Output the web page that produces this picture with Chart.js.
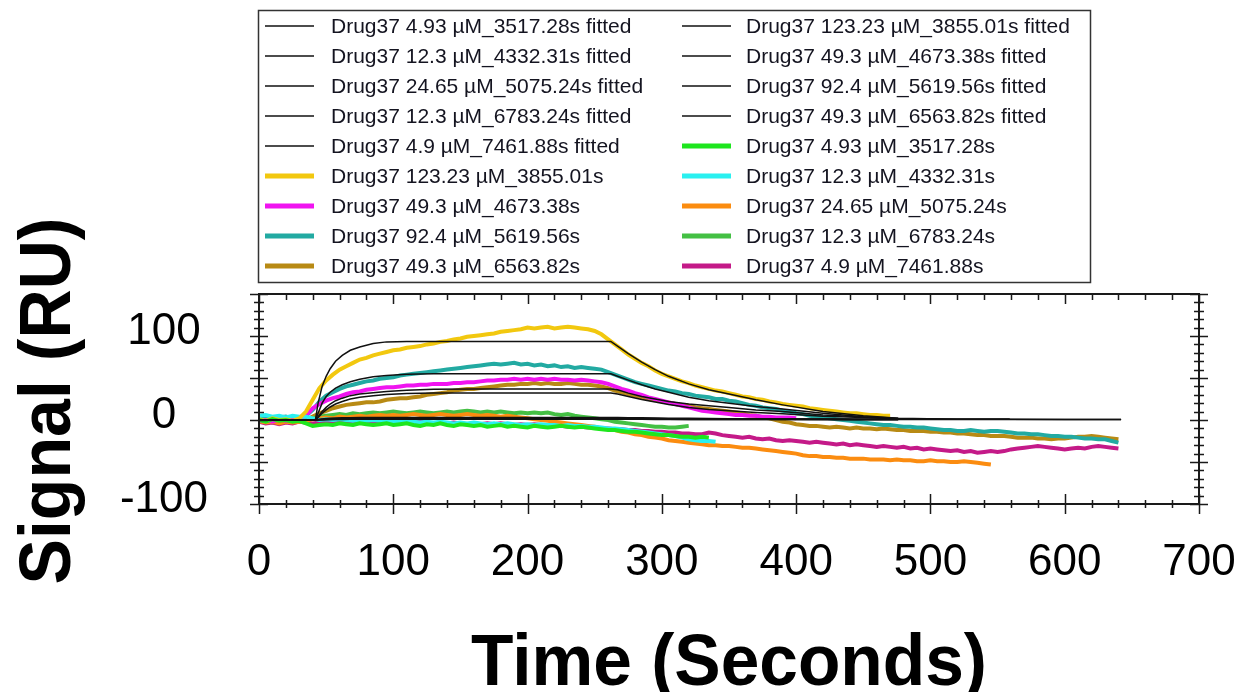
<!DOCTYPE html>
<html>
<head>
<meta charset="utf-8">
<script src="https://cdn.jsdelivr.net/npm/chart.js@4.4.0/dist/chart.umd.min.js"></script>
<style>
  html, body { margin: 0; padding: 0; background: #fff; }
  #sensorgram { display: block; }
</style>
</head>
<body>
<canvas id="sensorgram" width="1242" height="692"></canvas>
<script>
const FONT = '"Liberation Sans", Arial, sans-serif';

// sample step of the measured traces (seconds)
const STEP = 5;

// fitted curves share this time grid
const fitTimes = [0, 42, 44, 47, 50, 53, 57, 62, 68, 75, 85, 95, 110, 130, 160, 200, 262, 267, 275, 285, 295, 305, 320, 335, 350, 370, 390, 420, 450, 476, 520, 559, 600, 642];

const fit3517 = [0, 0, 0.2, 0.4, 0.6, 0.7, 0.8, 0.9, 1, 1, 1, 1, 1, 1, 1, 1, 1, 1, 0.9, 0.9, 0.8, 0.8, 0.7, 0.7, 0.6, 0.6, 0.5, 0.5, 0.4, 0.4, null, null, null, null];
const fit3855 = [0, 0, 20, 40, 52, 61, 70, 77, 83, 87, 91, 93, 93.5, 93.5, 93.5, 93.5, 93.5, 88, 79, 69, 60, 52, 43, 36, 31, 24, 18, 10, 5, 2, null, null, null, null];
const fit4332 = [0, 0, 0.4, 0.8, 1.1, 1.4, 1.6, 1.8, 1.9, 2, 2, 2, 2, 2, 2, 2, 2, 2, 1.9, 1.8, 1.7, 1.6, 1.5, 1.4, 1.3, 1.2, 1.1, 1, 0.9, 0.8, null, null, null, null];
const fit4673 = [0, 0, 4, 10, 15, 19, 23, 26, 29, 31, 32.5, 34, 35.5, 36.5, 37, 37, 37, 36, 32, 28, 25, 22, 19, 17, 15, 12, 10, 6, 3.5, 1.5, null, null, null, null];
const fit5075 = [0, 0, 0.6, 1.2, 1.7, 2.1, 2.4, 2.6, 2.8, 2.9, 3, 3, 3, 3, 3, 3, 3, 2.9, 2.8, 2.6, 2.4, 2.2, 2, 1.8, 1.6, 1.4, 1.3, 1.1, 1, 0.9, 0.8, 0.8, null, null];
const fit5619 = [0, 0, 8, 20, 28, 33, 38, 42, 45.5, 48.5, 51.5, 53, 54.5, 55, 55, 55, 55, 52, 47.5, 42, 37, 33, 27, 23, 20, 16, 13, 8, 4, 2, 1, 0.8, null, null];
const fit6783 = [0, 0, 0.3, 0.6, 0.9, 1.1, 1.3, 1.4, 1.5, 1.5, 1.5, 1.5, 1.5, 1.5, 1.5, 1.5, 1.5, 1.5, 1.4, 1.3, 1.3, 1.2, 1.1, 1, 0.9, 0.9, 0.8, 0.7, 0.7, 0.6, null, null, null, null];
const fit6563 = [0, 0, 3, 8, 12, 15.5, 19, 22, 25, 27, 29, 30.5, 31.5, 32, 32, 32, 32, 31, 28, 24.5, 21.5, 18.5, 15, 12.5, 11, 9, 7.5, 4.5, 3, 1.5, 1, 0.8, 0.6, 0.5];
const fit7461 = [0, 0, 0.2, 0.3, 0.4, 0.5, 0.6, 0.7, 0.8, 0.8, 0.8, 0.8, 0.8, 0.8, 0.8, 0.8, 0.8, 0.8, 0.8, 0.8, 0.7, 0.7, 0.7, 0.7, 0.6, 0.6, 0.6, 0.6, 0.6, 0.5, 0.5, 0.5, 0.5, 0.5];

// measured traces, one value every STEP seconds from t = 0
const raw3517 = [0, -2, 1, -1, 0, -2, -1, -4, -7, -6, -5, -6, -4, -5, -6, -4, -5, -6, -5, -4, -6, -5, -4, -6, -7, -5, -6, -4, -6, -7, -5, -6, -7, -6, -8, -7, -6, -8, -7, -8, -9, -7, -8, -9, -8, -7, -8, -9, -8, -9, -10, -11, -12, -12, -13, -14, -14, -15, -16, -17, -18, -18, -19, -20, -20, -21, -20, -21];
const raw3855 = [1, -1, 2, 0, 1, -1, 2, 10, 24, 38, 47, 54, 60, 64, 68, 72, 74, 77, 79, 81, 83, 84, 86, 87, 88, 90, 91, 93, 94, 96, 97, 99, 100, 101, 102, 103, 105, 106, 107, 108, 110, 109, 110, 111, 109, 110, 111, 110, 109, 108, 106, 102, 96, 90, 84, 78, 73, 68, 64, 59, 55, 52, 49, 46, 44, 41, 39, 37, 35, 34, 32, 30, 28, 27, 25, 24, 22, 21, 19, 18, 17, 16, 14, 13, 12, 11, 10, 9, 8, 8, 7, 6, 6, 5, 5];
const raw4332 = [5, 6, 4, 5, 3, 5, 4, 4, 2, 0, 1, 0, 1, 0, -1, 0, -1, 0, -1, -2, -1, -2, -1, -2, -3, -2, -3, -2, -3, -4, -3, -4, -3, -4, -5, -4, -5, -4, -5, -6, -5, -6, -5, -6, -6, -7, -6, -7, -7, -8, -8, -9, -10, -10, -11, -12, -13, -14, -15, -16, -17, -18, -19, -21, -23, -24, -25, -25, -26];
const raw4673 = [-1, 0, -2, 1, -1, 0, -1, 5, 14, 19, 23, 26, 28, 31, 33, 34, 36, 37, 38, 39, 39, 40, 41, 41, 42, 42, 43, 43, 43, 44, 44, 45, 45, 46, 47, 47, 48, 48, 49, 48, 49, 48, 49, 48, 49, 48, 48, 47, 48, 47, 46, 45, 43, 40, 37, 35, 32, 30, 27, 25, 23, 21, 19, 17, 15, 13, 11, 10, 9, 8, 7, 6, 6, 5, 5, 4, 4, 3, 3, 3, 2];
const raw5075 = [-1, -3, -2, -4, -2, -3, -2, -1, 1, 2, 3, 2, 4, 3, 4, 5, 4, 5, 6, 5, 6, 5, 6, 7, 6, 5, 6, 7, 6, 5, 6, 7, 6, 5, 6, 5, 4, 5, 4, 3, 2, 1, 0, -1, -2, -3, -4, -5, -6, -7, -8, -10, -11, -12, -14, -15, -17, -18, -20, -21, -22, -24, -25, -26, -27, -28, -29, -30, -30, -31, -31, -32, -33, -33, -34, -35, -36, -37, -38, -39, -40, -42, -43, -43, -44, -44, -45, -45, -46, -46, -46, -47, -47, -47, -48, -47, -48, -48, -49, -49, -48, -49, -49, -50, -50, -49, -50, -51, -52, -53];
const raw5619 = [3, 4, 2, 3, 4, 2, 3, 5, 12, 22, 29, 33, 37, 40, 42, 44, 46, 47, 49, 50, 51, 53, 54, 55, 56, 57, 58, 59, 60, 61, 62, 63, 64, 65, 66, 67, 66, 67, 68, 66, 67, 65, 66, 64, 65, 63, 64, 62, 63, 62, 61, 60, 57, 54, 51, 48, 45, 43, 41, 39, 37, 35, 34, 32, 31, 29, 28, 27, 25, 25, 23, 22, 20, 18, 17, 15, 14, 13, 11, 10, 8, 7, 5, 4, 3, 2, 1, 0, -1, -2, -3, -4, -5, -6, -6, -7, -8, -8, -9, -9, -10, -11, -12, -12, -13, -13, -12, -13, -14, -13, -13, -14, -15, -16, -16, -17, -17, -18, -19, -19, -20, -20, -21, -22, -22, -23, -23, -25, -27];
const raw6783 = [0, 1, -1, 0, 1, -1, 0, 1, 2, 4, 5, 6, 7, 6, 8, 7, 8, 9, 8, 9, 10, 9, 8, 9, 10, 9, 8, 9, 10, 9, 10, 11, 10, 9, 10, 9, 10, 9, 8, 9, 8, 9, 8, 9, 7, 6, 7, 5, 4, 3, 2, 1, 0, -2, -3, -4, -5, -6, -7, -8, -8, -9, -9, -8, -7];
const raw6563 = [-2, -1, -3, -1, -2, -1, -2, 0, 4, 8, 11, 14, 16, 18, 19, 20, 21, 21, 22, 24, 25, 26, 26, 27, 28, 30, 31, 32, 33, 35, 36, 37, 37, 38, 39, 40, 41, 42, 42, 43, 43, 44, 43, 44, 43, 43, 44, 43, 42, 42, 41, 40, 38, 35, 33, 31, 29, 27, 25, 24, 22, 21, 19, 18, 17, 15, 14, 13, 12, 11, 10, 9, 8, 6, 5, 3, 2, 0, -2, -3, -5, -6, -7, -7, -8, -9, -8, -9, -10, -9, -10, -10, -11, -10, -11, -12, -12, -13, -13, -13, -14, -14, -15, -15, -16, -16, -17, -18, -18, -19, -19, -19, -20, -21, -21, -21, -22, -22, -23, -22, -22, -21, -20, -20, -19, -20, -21, -22, -23];
const raw7461 = [-2, -4, -3, -5, -3, -4, -2, -3, -4, -3, -2, -3, -2, -3, -4, -3, -2, -3, -2, -3, -4, -3, -2, -3, -2, -3, -4, -3, -4, -3, -4, -5, -4, -5, -4, -5, -4, -5, -6, -5, -6, -5, -6, -7, -6, -7, -8, -7, -8, -9, -9, -10, -10, -11, -11, -12, -12, -13, -13, -14, -14, -15, -15, -16, -16, -17, -17, -15, -16, -18, -19, -20, -21, -20, -22, -23, -22, -24, -25, -24, -25, -26, -27, -26, -27, -28, -29, -28, -30, -29, -30, -31, -32, -31, -32, -33, -32, -34, -33, -35, -34, -35, -36, -37, -36, -38, -37, -39, -38, -37, -38, -37, -35, -34, -33, -32, -31, -32, -33, -34, -35, -34, -33, -34, -32, -31, -32, -33, -34];

const fitLabels = [
  'Drug37 4.93 µM_3517.28s fitted', 'Drug37 123.23 µM_3855.01s fitted',
  'Drug37 12.3 µM_4332.31s fitted', 'Drug37 49.3 µM_4673.38s fitted',
  'Drug37 24.65 µM_5075.24s fitted', 'Drug37 92.4 µM_5619.56s fitted',
  'Drug37 12.3 µM_6783.24s fitted', 'Drug37 49.3 µM_6563.82s fitted',
  'Drug37 4.9 µM_7461.88s fitted'
];
const rawLabels = [
  'Drug37 4.93 µM_3517.28s', 'Drug37 123.23 µM_3855.01s',
  'Drug37 12.3 µM_4332.31s', 'Drug37 49.3 µM_4673.38s',
  'Drug37 24.65 µM_5075.24s', 'Drug37 92.4 µM_5619.56s',
  'Drug37 12.3 µM_6783.24s', 'Drug37 49.3 µM_6563.82s',
  'Drug37 4.9 µM_7461.88s'
];
const rawColors = ['#1ee61e', '#f2c80f', '#2af0f0', '#f014f0', '#fb8c10', '#22aaa2', '#44c044', '#b88a14', '#c41a88'];

const fitSeries = [fit3517, fit3855, fit4332, fit4673, fit5075, fit5619, fit6783, fit6563, fit7461];
const rawSeries = [raw3517, raw3855, raw4332, raw4673, raw5075, raw5619, raw6783, raw6563, raw7461];

const datasets = [];
fitSeries.forEach((vals, i) => {
  datasets.push({
    label: fitLabels[i],
    data: vals.map((v, k) => ({ x: fitTimes[k], y: v })),
    borderColor: '#111',
    borderWidth: 1.5,
    legendWidth: 1.5,
    pointRadius: 0,
    spanGaps: false
  });
});
rawSeries.forEach((vals, i) => {
  datasets.push({
    label: rawLabels[i],
    data: vals.map((v, k) => ({ x: k * STEP, y: v })),
    borderColor: rawColors[i],
    borderWidth: 4,
    legendWidth: 5,
    pointRadius: 0
  });
});

// frame, crossing ticks, axis titles and the two-column legend box
const decorations = {
  id: 'decorations',
  afterDraw(chart) {
    const { ctx, chartArea: a, scales: { x, y } } = chart;
    ctx.save();

    ctx.strokeStyle = '#1a1a1a';
    ctx.lineWidth = 2;
    ctx.strokeRect(a.left, a.top, a.right - a.left, a.bottom - a.top);

    ctx.lineWidth = 1.5;
    ctx.beginPath();
    for (let t = 0; t <= 700; t += 20) {
      const px = Math.round(x.getPixelForValue(t)) + 0.5;
      const major = t % 100 === 0;
      ctx.moveTo(px, a.bottom - (major ? 10 : 4));
      ctx.lineTo(px, a.bottom + (major ? 10 : 4));
      ctx.moveTo(px, a.top);
      ctx.lineTo(px, a.top + (major ? 10 : 6));
    }
    for (let v = -100; v <= 150; v += 10) {
      const py = Math.round(y.getPixelForValue(v)) + 0.5;
      const len = v % 50 === 0 ? 9 : 5;
      ctx.moveTo(a.left - len, py);
      ctx.lineTo(a.left + len, py);
      ctx.moveTo(a.right - len, py);
      ctx.lineTo(a.right + len, py);
    }
    ctx.stroke();

    // axis titles
    ctx.fillStyle = '#000';
    ctx.font = 'bold 72px ' + FONT;
    ctx.textAlign = 'center';
    ctx.textBaseline = 'alphabetic';
    let w = ctx.measureText('Time (Seconds)').width;
    ctx.save();
    ctx.translate(729, 685);
    ctx.scale(516 / w, 1);
    ctx.fillText('Time (Seconds)', 0, 0);
    ctx.restore();

    w = ctx.measureText('Signal (RU)').width;
    ctx.save();
    ctx.translate(70, 401);
    ctx.rotate(-Math.PI / 2);
    ctx.scale(367 / w, 1);
    ctx.fillText('Signal (RU)', 0, 0);
    ctx.restore();

    // legend
    ctx.strokeStyle = '#333';
    ctx.lineWidth = 1.5;
    ctx.strokeRect(258.5, 10.5, 832, 272);
    const lineX = [265, 682];
    const textX = [331, 746];
    ctx.font = '21px ' + FONT;
    ctx.textAlign = 'left';
    ctx.textBaseline = 'middle';
    chart.data.datasets.forEach((ds, i) => {
      const col = i % 2;
      const rowY = 26 + Math.floor(i / 2) * 30;
      ctx.strokeStyle = ds.borderColor;
      ctx.lineWidth = ds.legendWidth;
      ctx.beginPath();
      ctx.moveTo(lineX[col], rowY);
      ctx.lineTo(lineX[col] + 49, rowY);
      ctx.stroke();
      ctx.fillStyle = '#141420';
      ctx.fillText(ds.label, textX[col], rowY + 1);
    });

    ctx.restore();
  }
};

new Chart(document.getElementById('sensorgram'), {
  type: 'line',
  data: { datasets },
  options: {
    responsive: false,
    animation: false,
    devicePixelRatio: 1,
    layout: { padding: { top: 294, right: 43, left: 0, bottom: 0 } },
    plugins: {
      legend: { display: false },
      tooltip: { enabled: false }
    },
    elements: { line: { tension: 0 } },
    scales: {
      x: {
        type: 'linear',
        min: 0,
        max: 700,
        grid: { display: false },
        border: { display: false },
        ticks: {
          stepSize: 100,
          padding: 24,
          color: '#000',
          font: { family: FONT, size: 44 },
          maxRotation: 0
        },
        afterFit: scale => {
          scale.height = 188;
          // keep the "700" label from shrinking the plot
          scale.paddingLeft = 0;
          scale.paddingRight = 0;
        }
      },
      y: {
        min: -100,
        max: 150,
        grid: { display: false },
        border: { display: false },
        ticks: {
          stepSize: 100,
          includeBounds: false,
          crossAlign: 'center',
          padding: 43,
          labelOffset: -4,
          color: '#000',
          font: { family: FONT, size: 44 }
        },
        afterFit: scale => { scale.width = 259; }
      }
    }
  },
  plugins: [decorations]
});
</script>
</body>
</html>
